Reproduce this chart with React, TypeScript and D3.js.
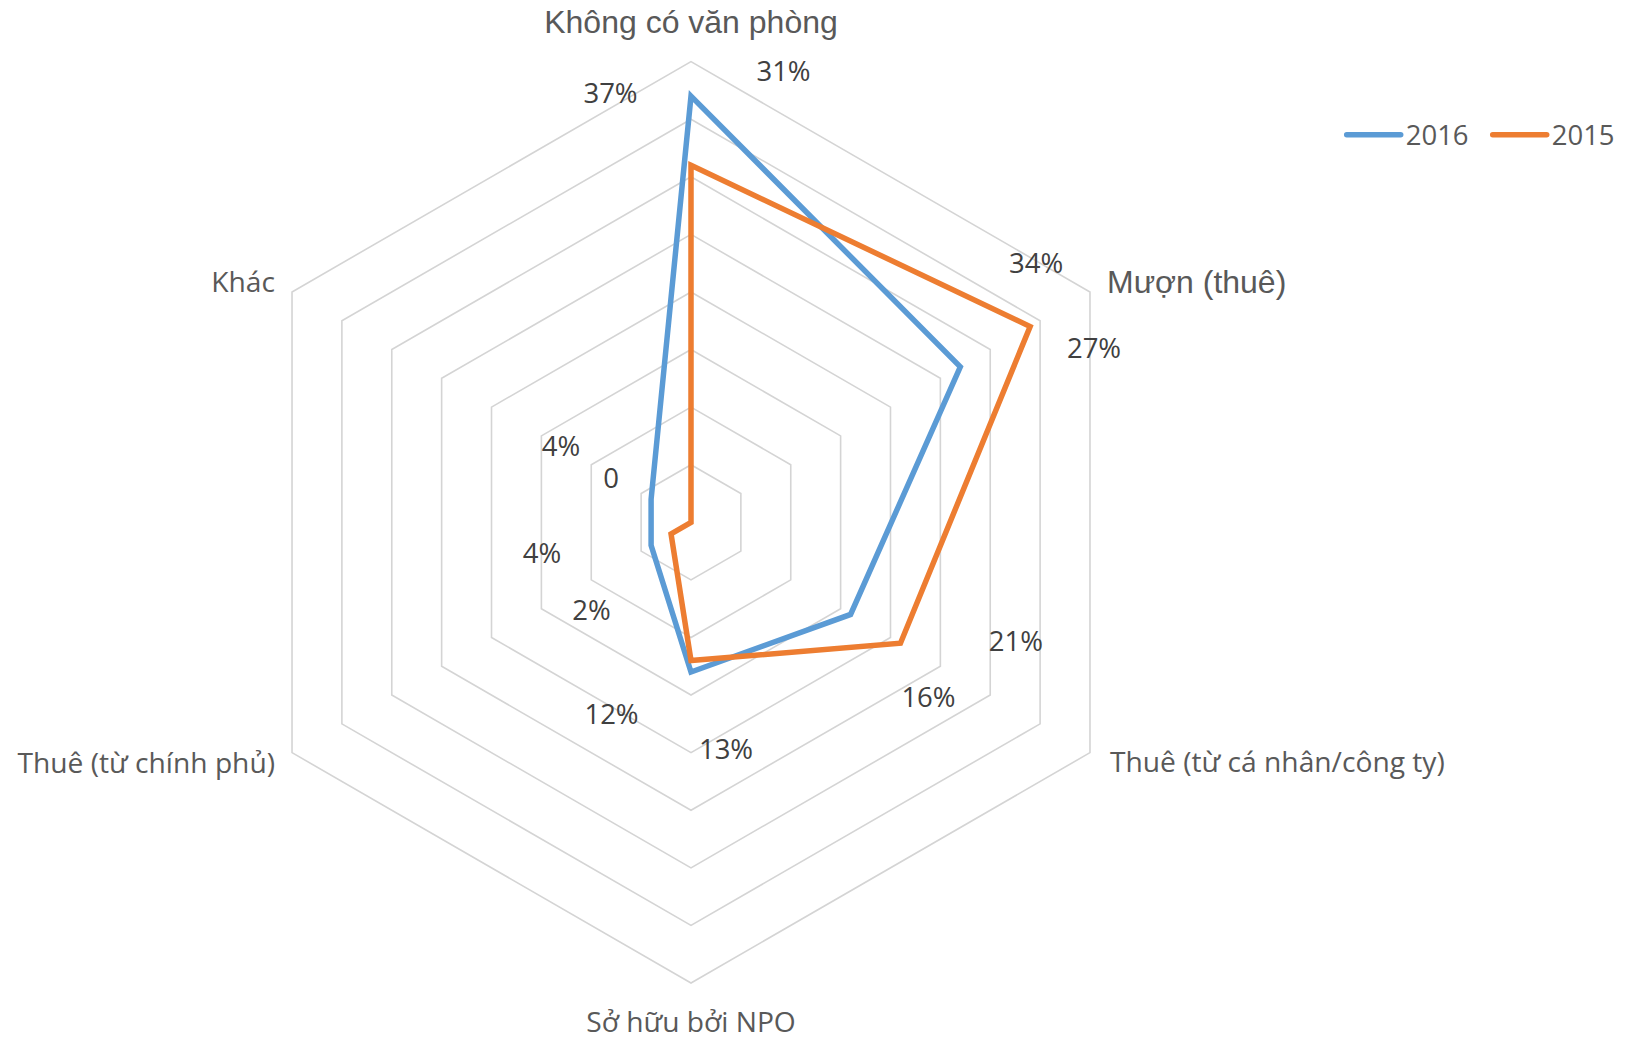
import React from "react";
import * as d3 from "d3";

const categories = [
  "Không có văn phòng",
  "Mượn (thuê)",
  "Thuê (từ cá nhân/công ty)",
  "Sở hữu bởi NPO",
  "Thuê (từ chính phủ)",
  "Khác",
];
const seriesNames = ["2016", "2015"];
const values2016 = [37, 27, 16, 13, 4, 4];
const values2015 = [31, 34, 21, 12, 2, 0];
const ringValues = [5, 10, 15, 20, 25, 30, 35, 40];

// layout (not data)
const W = 1630;
const H = 1039;
const CX = 691;
const CY = 522.3;
const R = 460.7;
const COLORS = ["#5B9BD5", "#ED7D31"];
const TEXT = "#595959";
const SEGOE = "'Open Sans', 'Noto Sans', sans-serif";
const ARIAL = "'Liberation Sans', Arial, sans-serif";

// category label placement relative to outer vertex: [dx, dy, anchor, font, size]
const catPlace: [number, number, string, string, number][] = [
  [0, -28.6, "middle", ARIAL, 32],
  [17, 1, "start", ARIAL, 32],
  [20, 19, "start", SEGOE, 28.2],
  [0, 49, "middle", SEGOE, 28.2],
  [-17, 20, "end", SEGOE, 28.2],
  [-17, 0, "end", SEGOE, 28.2],
];
// data label offsets relative to point (dx to center, dy to baseline)
const labelOffsets: [number, number][][] = [
  [[-80.5, 6.8], [133.7, -8.8], [77.9, 92.2], [35, 87.3], [-109.1, 17.4], [-90.1, -43.3]],
  [[92.5, -84.5], [5.9, -53.5], [115.5, 7.5], [-79.5, 63.5], [-79.6, 86.2], [-80, -34.6]],
];

export default function App() {
  const series = [values2016, values2015];
  const n = categories.length;
  const rScale = d3.scaleLinear().domain([0, 40]).range([0, R]);
  const angle = (i: number) => (i * 2 * Math.PI) / n;
  const pt = (i: number, v: number): [number, number] => {
    const a = angle(i);
    return [CX + rScale(v) * Math.sin(a), CY - rScale(v) * Math.cos(a)];
  };
  const radial = d3
    .lineRadial<number>()
    .angle((_, i) => angle(i))
    .radius((d) => rScale(d))
    .curve(d3.curveLinearClosed);

  const ringPath = (v: number) => radial(d3.range(n).map(() => v)) || "";

  const order = [0, 1];

  return (
    <svg
      width={W}
      height={H}
      style={{ position: "absolute", left: 0, top: 0, display: "block", background: "#fff" }}
    >
      <g transform={`translate(${CX},${CY})`}>
        {ringValues.map((v) => (
          <path key={v} d={ringPath(v)} fill="none" stroke="#D4D4D4" strokeWidth={1.6} />
        ))}
        {order.map((s) => (
          <path
            key={s}
            d={radial(series[s]) || ""}
            fill="none"
            stroke={COLORS[s]}
            strokeWidth={5.5}
            strokeLinejoin="miter"
          />
        ))}
      </g>
      {categories.map((c, i) => {
        const [x, y] = pt(i, 40);
        const [dx, dy, anchor, font, size] = catPlace[i];
        return (
          <text
            key={c}
            x={x + dx}
            y={y + dy}
            textAnchor={anchor as any}
            fontFamily={font}
            fontSize={size}
            fill={TEXT}
          >
            {c}
          </text>
        );
      })}
      {series.map((vals, s) =>
        vals.map((v, i) => {
          const [x, y] = pt(i, v);
          const [dx, dy] = labelOffsets[s][i];
          return (
            <text
              key={`${s}-${i}`}
              x={x + dx}
              y={y + dy}
              textAnchor="middle"
              fontFamily={SEGOE}
              fontSize={27.5}
              fill="#404040"
            >
              {v === 0 ? "0" : `${v}%`}
            </text>
          );
        })
      )}
      {seriesNames.map((name, s) => {
        const x0 = 1346.7 + s * 146;
        return (
          <g key={name}>
            <line
              x1={x0}
              x2={x0 + 54}
              y1={134.7}
              y2={134.7}
              stroke={COLORS[s]}
              strokeWidth={5.5}
              strokeLinecap="round"
            />
            <text x={x0 + 59} y={145} fontFamily={SEGOE} fontSize={27.5} fill={TEXT}>
              {name}
            </text>
          </g>
        );
      })}
    </svg>
  );
}
